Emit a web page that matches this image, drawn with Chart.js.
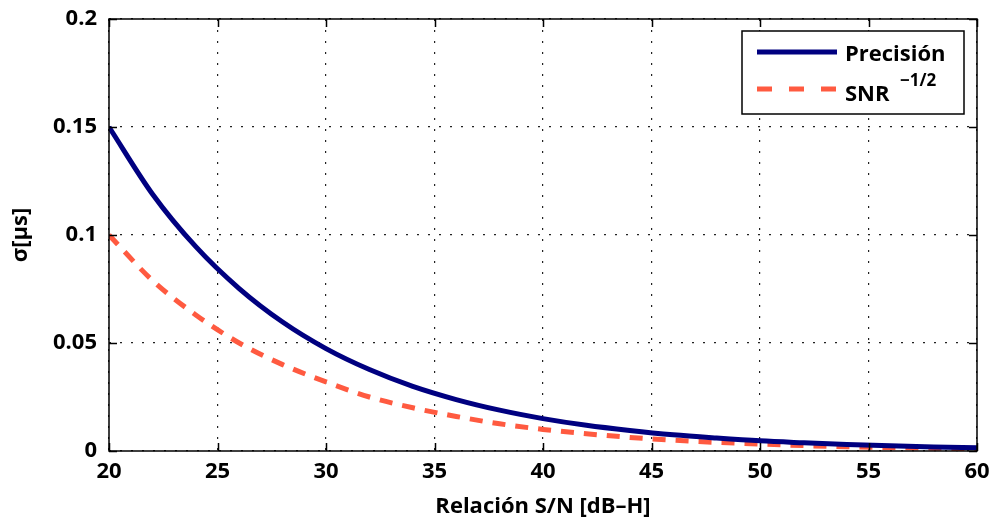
<!DOCTYPE html>
<html>
<head>
<meta charset="utf-8">
<script src="https://cdn.jsdelivr.net/npm/chart.js@4"></script>
<style>
  html, body { margin: 0; padding: 0; background: #fff; }
  #wrap { width: 993px; height: 520px; }
</style>
</head>
<body>
<div id="wrap"><canvas id="c" width="993" height="520"></canvas></div>
<script>
// S/N values (dB-H) and the two curves
const snr = [20, 22, 24, 26, 28, 30, 32, 34, 36, 38, 40, 42, 44, 46, 48, 50, 52, 54, 56, 58, 60];
const precision = [0.150, 0.119, 0.0946, 0.0752, 0.0597, 0.0474, 0.0377, 0.0299, 0.0238, 0.0189, 0.0150,
  0.0119, 0.0095, 0.0075, 0.0060, 0.0047, 0.0038, 0.0030, 0.0024, 0.0019, 0.0015];
const snrRoot = [0.100, 0.079, 0.063, 0.050, 0.040, 0.032, 0.025, 0.020, 0.016, 0.0126, 0.0100,
  0.0080, 0.0063, 0.0050, 0.0040, 0.0032, 0.0025, 0.0020, 0.0016, 0.0013, 0.0010];
const xTicks = [20, 25, 30, 35, 40, 45, 50, 55, 60];
const yTicks = ["0", "0.05", "0.1", "0.15", "0.2"];

const FONT = "'Open Sans', 'DejaVu Sans', sans-serif";
const BLUE = "#000080";
const RED = "#ff5a40";

// MATLAB-like frame: box around the axes plus short inward ticks on all sides
const frame = {
  id: "frame",
  afterDatasetsDraw(chart) {
    const { ctx, chartArea: a, scales } = chart;
    ctx.save();
    ctx.strokeStyle = "#000";
    ctx.lineWidth = 1.5;
    ctx.beginPath();
    xTicks.forEach((v) => {
      const px = Math.round(scales.x.getPixelForValue(v)) + 0.5;
      ctx.moveTo(px, a.bottom); ctx.lineTo(px, a.bottom - 8);
      ctx.moveTo(px, a.top); ctx.lineTo(px, a.top + 8);
    });
    yTicks.forEach((t) => {
      const py = Math.round(scales.y.getPixelForValue(+t)) + 0.5;
      ctx.moveTo(a.left, py); ctx.lineTo(a.left + 8, py);
      ctx.moveTo(a.right, py); ctx.lineTo(a.right - 8, py);
    });
    ctx.stroke();
    ctx.strokeRect(a.left, a.top, a.right - a.left, a.bottom - a.top);
    ctx.restore();
  },
  afterDraw(chart) {
    // legend box, upper right inside the axes
    const { ctx } = chart;
    ctx.save();
    ctx.fillStyle = "#fff";
    ctx.fillRect(742, 31, 222, 83);
    ctx.strokeStyle = "#000";
    ctx.lineWidth = 1.5;
    ctx.strokeRect(742, 31, 222, 83);

    ctx.lineWidth = 5;
    ctx.strokeStyle = BLUE;
    ctx.beginPath(); ctx.moveTo(757, 52); ctx.lineTo(837, 52); ctx.stroke();
    ctx.strokeStyle = RED;
    ctx.setLineDash([15, 17]);
    ctx.beginPath(); ctx.moveTo(757, 89); ctx.lineTo(837, 89); ctx.stroke();
    ctx.setLineDash([]);

    ctx.fillStyle = "#000";
    ctx.textBaseline = "alphabetic";
    ctx.font = "700 22px " + FONT;
    ctx.fillText("Precisión", 845, 61);
    ctx.fillText("SNR", 845, 101);
    ctx.font = "700 17px " + FONT;
    ctx.fillText("\u22121/2", 900, 86);
    ctx.restore();
  }
};

new Chart(document.getElementById("c"), {
  type: "line",
  data: {
    datasets: [
      {
        label: "Precisión",
        data: snr.map((x, i) => ({ x, y: precision[i] })),
        borderColor: BLUE,
        borderWidth: 5,
        pointRadius: 0,
        cubicInterpolationMode: "monotone",
        fill: false,
      },
      {
        label: "SNR −1/2",
        data: snr.map((x, i) => ({ x, y: snrRoot[i] })),
        borderColor: RED,
        borderWidth: 5,
        borderDash: [13, 10],
        pointRadius: 0,
        cubicInterpolationMode: "monotone",
        fill: false,
      },
    ],
  },
  options: {
    responsive: false,
    animation: false,
    events: [],
    layout: { padding: { left: 0, right: 16, top: 19, bottom: 0 } },
    plugins: { legend: { display: false }, tooltip: { enabled: false } },
    scales: {
      x: {
        type: "linear",
        min: 20,
        max: 60,
        afterBuildTicks: (s) => { s.ticks = xTicks.map((v) => ({ value: v })); },
        afterFit: (s) => { s.height = 69; s.paddingLeft = 0; s.paddingRight = 0; },
        ticks: { color: "#000", font: { family: FONT, size: 22, weight: "700" }, padding: 8, maxRotation: 0 },
        grid: { color: "#222", lineWidth: 1.2, drawTicks: false },
        border: { display: false, dash: [2, 9] },
        title: { display: true, text: "Relación S/N [dB–H]", color: "#000", font: { family: FONT, size: 22, weight: "700" }, padding: { top: 12, bottom: 0 } },
      },
      y: {
        min: 0,
        max: 0.2,
        afterBuildTicks: (s) => { s.ticks = yTicks.map((t) => ({ value: +t })); },
        afterFit: (s) => { s.width = 109; s.paddingTop = 0; s.paddingBottom = 0; },
        ticks: {
          color: "#000",
          font: { family: FONT, size: 22, weight: "700" },
          padding: 12,
          callback: (v) => yTicks.find((t) => +t === v),
        },
        grid: { color: "#222", lineWidth: 1.2, drawTicks: false },
        border: { display: false, dash: [2, 9] },
        title: { display: true, text: "σ[µs]", color: "#000", font: { family: FONT, size: 22, weight: "700" }, padding: { top: 8, bottom: 8 } },
      },
    },
  },
  plugins: [frame],
});
</script>
</body>
</html>
